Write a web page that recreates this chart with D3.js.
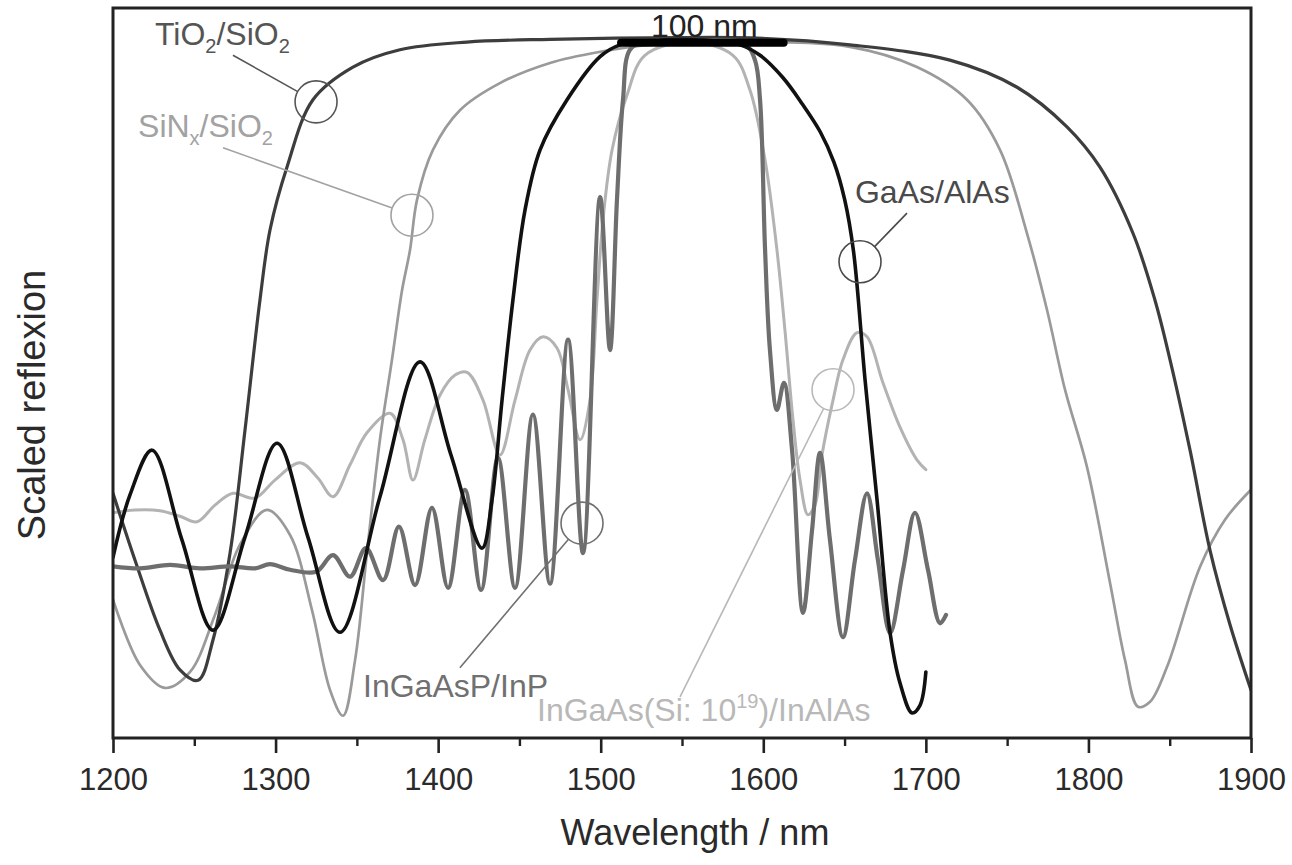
<!DOCTYPE html>
<html>
<head>
<meta charset="utf-8">
<script src="https://cdn.jsdelivr.net/npm/d3@7"></script>
<style>
  html, body { margin: 0; padding: 0; background: #fff; }
  svg { display: block; font-family: "Liberation Sans", Arial, Helvetica, sans-serif; }
</style>
</head>
<body>
<svg id="chart" width="1292" height="865"></svg>
<script>
// Axis ticks (wavelength, nm)
const majorTicks = [1200, 1300, 1400, 1500, 1600, 1700, 1800, 1900];
const minorTicks = [1250, 1350, 1450, 1550, 1650, 1750, 1850];

// Reflexion spectra: [wavelength nm, scaled reflexion]
const tio2Sio2 = [
  [1200, 0.352], [1213.5, 0.256], [1228.9, 0.155], [1241.2, 0.098], [1252.3, 0.083],
  [1261.5, 0.141], [1272.0, 0.266], [1281.2, 0.443], [1290.4, 0.630], [1296.6, 0.731],
  [1307.0, 0.821], [1323.0, 0.918], [1347.6, 0.965], [1376.5, 0.990], [1417.7, 1.001],
  [1468.8, 1.005], [1530.3, 1.007], [1591.8, 1.007], [1653.3, 0.997], [1714.8, 0.975],
  [1756.1, 0.936], [1786.8, 0.879], [1807.1, 0.821], [1827.4, 0.726], [1840.9, 0.630],
  [1850.2, 0.544], [1862.5, 0.414], [1874.8, 0.270], [1887.1, 0.163], [1900, 0.069]
];

const sinxSio2 = [
  [1200, 0.199], [1216.6, 0.105], [1232.0, 0.072], [1247.4, 0.095], [1262.7, 0.177],
  [1278.1, 0.278], [1294.7, 0.328], [1308.9, 0.292], [1322.4, 0.184], [1333.5, 0.069],
  [1341.5, 0.032], [1348.9, 0.112], [1356.2, 0.266], [1364.2, 0.429], [1371.6, 0.544],
  [1377.8, 0.644], [1382.7, 0.702], [1387.0, 0.774], [1396.8, 0.846], [1413.4, 0.903],
  [1438.0, 0.942], [1468.8, 0.971], [1499.6, 0.987], [1530.3, 0.997], [1591.8, 1.001],
  [1653.3, 0.994], [1694.5, 0.965], [1725.3, 0.918], [1745.6, 0.846], [1762.2, 0.726],
  [1774.5, 0.616], [1785.6, 0.501], [1799.1, 0.390], [1813.3, 0.223], [1822.5, 0.112],
  [1830.5, 0.045], [1837.9, 0.052], [1848.3, 0.102], [1868.6, 0.246], [1884.0, 0.314],
  [1900, 0.357]
];

const gaasAlas = [
  [1200, 0.260], [1210.5, 0.350], [1224.0, 0.414], [1242.4, 0.285], [1261.5, 0.155],
  [1281.2, 0.289], [1300.9, 0.424], [1319.9, 0.289], [1339.6, 0.152], [1364.2, 0.347],
  [1388.8, 0.541], [1407.9, 0.407], [1427.0, 0.273], [1433.1, 0.342], [1439.3, 0.486],
  [1446.0, 0.630], [1453.4, 0.759], [1462.7, 0.846], [1479.3, 0.918], [1499.6, 0.980],
  [1511.9, 0.997], [1536.5, 1.004], [1561.1, 1.004], [1585.7, 0.997], [1598.0, 0.982],
  [1612.0, 0.950], [1624.0, 0.912], [1635.0, 0.872], [1643.5, 0.828], [1650.0, 0.775],
  [1655.5, 0.700], [1662.6, 0.515], [1670.0, 0.342],
  [1678.0, 0.151], [1684.1, 0.079], [1691.5, 0.036], [1696.4, 0.047], [1700, 0.095]
];

const ingaaspInp = [
  [1200, 0.247], [1216.6, 0.244], [1235.1, 0.249], [1253.5, 0.244], [1272.0, 0.247],
  [1287.3, 0.244], [1296.6, 0.250], [1308.9, 0.242], [1324.9, 0.239], [1335.3, 0.263],
  [1345.8, 0.232], [1355.6, 0.273], [1366.1, 0.227], [1375.9, 0.304], [1385.8, 0.220],
  [1396.2, 0.331], [1406.1, 0.216], [1416.5, 0.357], [1426.4, 0.213], [1436.8, 0.403],
  [1447.3, 0.216], [1458.3, 0.465], [1468.8, 0.222], [1479.9, 0.573], [1489.1, 0.266],
  [1499.6, 0.778], [1505.7, 0.558], [1510.0, 0.774], [1513.7, 0.918], [1518.0, 0.990],
  [1527.2, 1.001], [1561.1, 1.004], [1588.8, 0.998], [1594.9, 0.975], [1598.0, 0.918],
  [1601.1, 0.702], [1604.1, 0.558], [1608.4, 0.472], [1612.7, 0.511], [1617.7, 0.414],
  [1624.4, 0.180], [1630.0, 0.299], [1634.9, 0.410], [1641.0, 0.285], [1649.0, 0.145],
  [1656.4, 0.256], [1663.8, 0.352], [1670.5, 0.256], [1678.0, 0.151], [1686.0, 0.242],
  [1693.3, 0.324], [1701.3, 0.242], [1708.7, 0.165], [1712.4, 0.177]
];

const ingaasInalas = [
  [1200, 0.324], [1213.5, 0.328], [1228.9, 0.327], [1241.2, 0.319], [1251.7, 0.311],
  [1262.7, 0.335], [1273.8, 0.352], [1287.3, 0.345], [1299.6, 0.371], [1315.0, 0.396],
  [1326.0, 0.374], [1335.3, 0.347], [1345.8, 0.393], [1356.2, 0.439], [1370.4, 0.467],
  [1378.4, 0.429], [1384.5, 0.371], [1391.8, 0.429], [1401.1, 0.493], [1410.4, 0.522],
  [1417.8, 0.526], [1427.6, 0.486], [1438.0, 0.407], [1447.3, 0.486], [1456.5, 0.558],
  [1464.5, 0.577], [1473.1, 0.561], [1479.9, 0.501], [1487.3, 0.429], [1493.4, 0.486],
  [1497.7, 0.630], [1501.4, 0.745], [1507.0, 0.846], [1516.2, 0.925], [1527.2, 0.982],
  [1554.9, 1.001], [1581.3, 0.982], [1591.8, 0.932], [1601.1, 0.831], [1608.4, 0.702],
  [1613.3, 0.587], [1618.3, 0.457], [1622.6, 0.371], [1627.5, 0.321], [1631.8, 0.335],
  [1636.1, 0.407], [1642.9, 0.486], [1649.0, 0.544], [1657.7, 0.583], [1663.8, 0.577],
  [1673.6, 0.511], [1684.1, 0.447], [1694.5, 0.400], [1700, 0.386]
];

// 100 nm scale bar drawn across the top of the stop band
const scaleBarNm = [1512.5, 1612.5];
const scaleBarLevel = 1.0;

const svg = d3.select("#chart");
const plot = { left: 113, right: 1251, top: 8, bottom: 738 };

const x = d3.scaleLinear().domain([1200, 1900]).range([plot.left, plot.right]);
const y = d3.scaleLinear().domain([0, 1.05]).range([plot.bottom, plot.top]);

svg.append("defs").append("clipPath").attr("id", "plot-clip")
  .append("rect")
  .attr("x", plot.left).attr("y", plot.top)
  .attr("width", plot.right - plot.left).attr("height", plot.bottom - plot.top);

const line = d3.line()
  .x(d => x(d[0]))
  .y(d => y(d[1]))
  .curve(d3.curveCatmullRom.alpha(0.5));

const series = [
  { data: ingaasInalas, color: "#b3b3b3", width: 3.0 },
  { data: sinxSio2,     color: "#9a9a9a", width: 2.7 },
  { data: tio2Sio2,     color: "#3d3d3d", width: 3.2 },
  { data: ingaaspInp,   color: "#6e6e6e", width: 4.2 },
  { data: gaasAlas,     color: "#111111", width: 3.6 }
];

const curves = svg.append("g").attr("clip-path", "url(#plot-clip)");
curves.selectAll("path")
  .data(series)
  .join("path")
  .attr("d", d => line(d.data))
  .attr("fill", "none")
  .attr("stroke", d => d.color)
  .attr("stroke-width", d => d.width)
  .attr("stroke-linejoin", "round")
  .attr("stroke-linecap", "round");

// Scale bar and its label
svg.append("line")
  .attr("x1", x(scaleBarNm[0])).attr("x2", x(scaleBarNm[1]))
  .attr("y1", y(scaleBarLevel)).attr("y2", y(scaleBarLevel))
  .attr("stroke", "#000").attr("stroke-width", 8).attr("stroke-linecap", "round");
svg.append("text")
  .attr("x", x((scaleBarNm[0] + scaleBarNm[1]) / 2) + 2)
  .attr("y", y(scaleBarLevel) - 6)
  .attr("text-anchor", "middle")
  .attr("font-size", 32)
  .attr("fill", "#222")
  .text("100 nm");

// Material labels with leader lines and circles marking each curve
const annotations = [
  { parts: [["TiO"], ["2", "sub"], ["/SiO"], ["2", "sub"]], color: "#555",
    text: [1225.8, 0.997], from: [1273.8, 0.982], circle: [1324.9, 0.915] },
  { parts: [["SiN"], ["x", "sub"], ["/SiO"], ["2", "sub"]], color: "#a2a2a2",
    text: [1215.4, 0.865], from: [1267.7, 0.849], circle: [1383.9, 0.752] },
  { parts: [["GaAs/AlAs"]], color: "#4a4a4a",
    text: [1656.4, 0.770], from: [1688.4, 0.755], circle: [1659.5, 0.685] },
  { parts: [["InGaAsP/InP"]], color: "#707070",
    text: [1353.8, 0.059], from: [1413.4, 0.101], circle: [1488.5, 0.309] },
  { parts: [["InGaAs(Si: 10"], ["19", "sup"], [")/InAlAs"]], color: "#b8b8b8",
    text: [1460.8, 0.024], from: [1548.8, 0.059], circle: [1642.9, 0.501] }
];
const circleR = 21;

const ann = svg.append("g");
annotations.forEach(a => {
  const cx = x(a.circle[0]), cy = y(a.circle[1]);
  const fx = x(a.from[0]), fy = y(a.from[1]);
  const len = Math.hypot(cx - fx, cy - fy);
  ann.append("line")
    .attr("x1", fx).attr("y1", fy)
    .attr("x2", cx - (cx - fx) / len * circleR)
    .attr("y2", cy - (cy - fy) / len * circleR)
    .attr("stroke", a.color).attr("stroke-width", 1.6);
  ann.append("circle")
    .attr("cx", cx).attr("cy", cy).attr("r", circleR)
    .attr("fill", "none").attr("stroke", a.color).attr("stroke-width", 1.6);

  const t = ann.append("text")
    .attr("x", x(a.text[0])).attr("y", y(a.text[1]))
    .attr("font-size", 32).attr("fill", a.color);
  let shift = 0;
  a.parts.forEach(([s, kind]) => {
    const target = kind === "sub" ? 8 : kind === "sup" ? -13 : 0;
    const ts = t.append("tspan").attr("dy", target - shift).text(s);
    if (kind) ts.attr("font-size", 20);
    shift = target;
  });
});

// Bottom axis: major and minor ticks
const axisG = svg.append("g").attr("transform", `translate(0,${plot.bottom})`);
axisG.call(d3.axisBottom(x).tickValues(majorTicks).tickSize(15).tickPadding(15).tickFormat(d3.format("d")))
  .call(g => g.select(".domain").remove())
  .call(g => g.selectAll(".tick line").attr("stroke", "#222").attr("stroke-width", 2.6))
  .call(g => g.selectAll(".tick text").attr("font-size", 31).attr("fill", "#2a2a2a")
    .attr("font-family", "\"Liberation Sans\", Arial, sans-serif"));
svg.append("g").attr("transform", `translate(0,${plot.bottom})`)
  .call(d3.axisBottom(x).tickValues(minorTicks).tickSize(8).tickFormat(""))
  .call(g => g.select(".domain").remove())
  .call(g => g.selectAll(".tick line").attr("stroke", "#222").attr("stroke-width", 2.4));

// Plot frame
svg.append("rect")
  .attr("x", plot.left).attr("y", plot.top)
  .attr("width", plot.right - plot.left).attr("height", plot.bottom - plot.top)
  .attr("fill", "none").attr("stroke", "#222").attr("stroke-width", 3);

// Axis titles
svg.append("text")
  .attr("x", (plot.left + plot.right) / 2 + 13)
  .attr("y", 845)
  .attr("text-anchor", "middle")
  .attr("font-size", 36)
  .attr("fill", "#2a2a2a")
  .text("Wavelength / nm");
svg.append("text")
  .attr("transform", `translate(45,405) rotate(-90)`)
  .attr("text-anchor", "middle")
  .attr("font-size", 38)
  .attr("fill", "#2a2a2a")
  .text("Scaled reflexion");
</script>
</body>
</html>
